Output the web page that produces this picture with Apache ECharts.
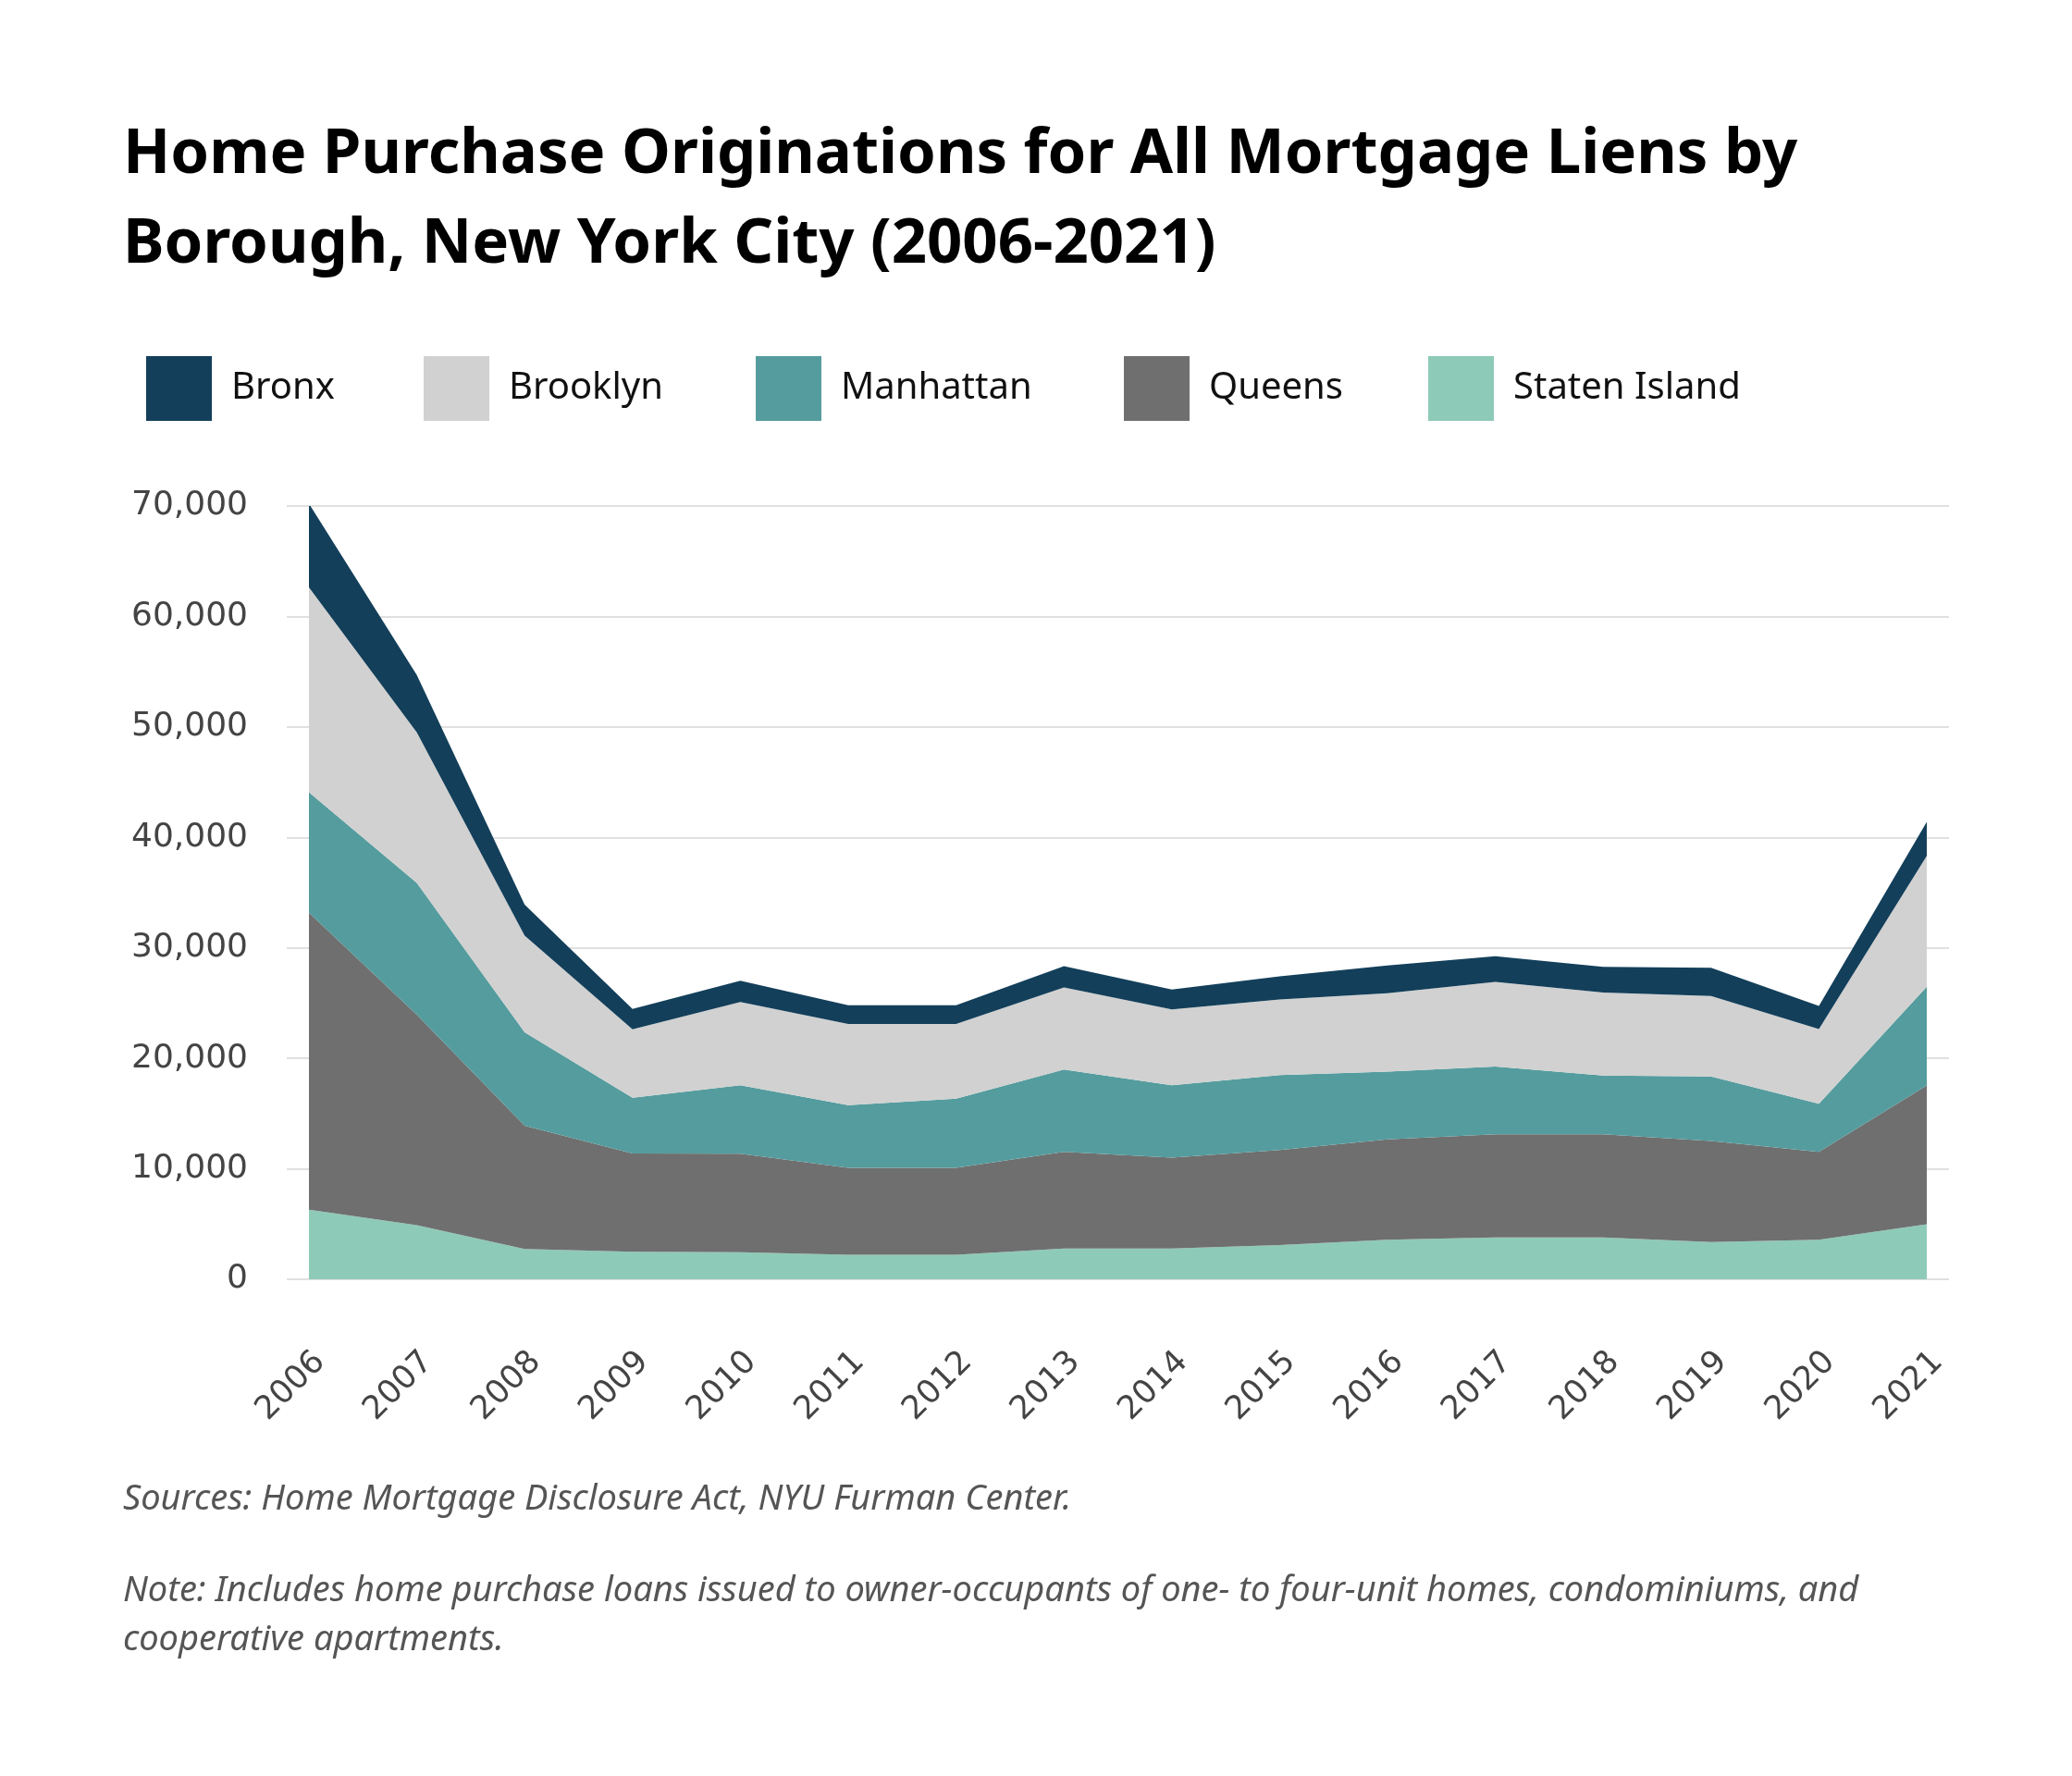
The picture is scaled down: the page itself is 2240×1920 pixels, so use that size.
<!DOCTYPE html>
<html>
<head>
<meta charset="utf-8">
<script src="https://cdn.jsdelivr.net/npm/echarts@6/dist/echarts.min.js"></script>
<style>
html,body{margin:0;padding:0;background:#fff;}
#chart{width:2240px;height:1920px;}
</style>
</head>
<body>
<div id="chart"></div>
<script>
const years = ['2006','2007','2008','2009','2010','2011','2012','2013','2014','2015','2016','2017','2018','2019','2020','2021'];
const statenIsland = [6300, 4900, 2750, 2490, 2440, 2220, 2220, 2780, 2780, 3100, 3570, 3780, 3780, 3360, 3570, 4990];
const queens = [26870, 19050, 11140, 8900, 8920, 7870, 7870, 8750, 8240, 8600, 9100, 9340, 9340, 9160, 7960, 12550];
const manhattan = [10920, 11930, 8470, 5040, 6200, 5680, 6250, 7450, 6540, 6780, 6130, 6130, 5320, 5830, 4360, 8950];
const brooklyn = [18550, 13620, 8750, 6200, 7530, 7330, 6760, 7440, 6870, 6850, 7090, 7660, 7510, 7300, 6750, 11830];
const bronx = [7570, 5190, 2810, 1850, 1930, 1700, 1700, 1930, 1790, 2100, 2520, 2340, 2340, 2550, 2110, 3090];
const yTicks = [0, 10000, 20000, 30000, 40000, 50000, 60000, 70000];

const legendNames = ['Bronx','Brooklyn','Manhattan','Queens','Staten Island'];
const legendLeft = [153, 453, 812, 1210, 1539];
const colors = {
  'Bronx': '#133f5a',
  'Brooklyn': '#d1d1d1',
  'Manhattan': '#559c9e',
  'Queens': '#6f6f6f',
  'Staten Island': '#8ecab8'
};

const chart = echarts.init(document.getElementById('chart'), null, {renderer:'canvas'});

const stackOrder = [
  ['Staten Island', statenIsland],
  ['Queens', queens],
  ['Manhattan', manhattan],
  ['Brooklyn', brooklyn],
  ['Bronx', bronx]
];

const option = {
  backgroundColor: '#ffffff',
  animation: false,
  color: stackOrder.map(s => colors[s[0]]),
  title: [
    {
      text: 'Home Purchase Originations for All Mortgage Liens by\nBorough, New York City (2006-2021)',
      left: 128, top: 114,
      textStyle: {fontFamily: 'Noto Sans', fontWeight: 700, fontSize: 67, lineHeight: 97, color: '#000'}
    },
    {
      text: 'Sources: Home Mortgage Disclosure Act, NYU Furman Center.',
      left: 128, top: 1597,
      textStyle: {fontFamily: 'Noto Sans', fontStyle: 'italic', fontWeight: 'normal', fontSize: 38, color: '#555'}
    },
    {
      text: 'Note: Includes home purchase loans issued to owner-occupants of one- to four-unit homes, condominiums, and\ncooperative apartments.',
      left: 128, top: 1689,
      textStyle: {fontFamily: 'Noto Sans', fontStyle: 'italic', fontWeight: 'normal', fontSize: 38, lineHeight: 53, color: '#555'}
    }
  ],
  legend: legendNames.map((n, i) => ({
    data: [n],
    left: legendLeft[i],
    top: 380,
    icon: 'rect',
    itemWidth: 71,
    itemHeight: 70,
    selectedMode: false,
    textStyle: {fontFamily: 'Noto Sans', fontSize: 40, color: '#111', padding: [0, 0, 0, 16]}
  })),
  grid: [
    {left: 310, right: 133, top: 547, bottom: 537},
    {left: 334, right: 157, top: 547, bottom: 537}
  ],
  xAxis: [
    {gridIndex: 0, type: 'category', data: years, boundaryGap: false, show: false},
    {
      gridIndex: 1, type: 'category', data: years, boundaryGap: false,
      axisLine: {show: false}, axisTick: {show: false},
      axisLabel: {rotate: 45, margin: 96, padding: [0, -17, 0, 0], fontFamily: 'DejaVu Sans', fontSize: 35, color: '#444', interval: 0}
    }
  ],
  yAxis: [
    {
      gridIndex: 0, type: 'value', min: yTicks[0], max: yTicks[yTicks.length - 1], interval: yTicks[1] - yTicks[0],
      axisLine: {show: false}, axisTick: {show: false},
      splitLine: {lineStyle: {color: '#d6d6d6', width: 1.5}},
      axisLabel: {
        margin: 42, fontFamily: 'DejaVu Sans', fontSize: 36, color: '#444',
        formatter: v => v.toLocaleString('en-US')
      }
    },
    {
      gridIndex: 1, type: 'value', min: yTicks[0], max: yTicks[yTicks.length - 1], interval: yTicks[1] - yTicks[0],
      show: false, splitLine: {show: false}
    }
  ],
  series: stackOrder.map(([name, vals]) => ({
    name: name,
    type: 'line',
    xAxisIndex: 1,
    yAxisIndex: 1,
    stack: 'total',
    data: vals,
    symbol: 'none',
    lineStyle: {width: 0},
    areaStyle: {opacity: 1, color: colors[name]},
    itemStyle: {color: colors[name]},
    emphasis: {disabled: true}
  }))
};

chart.setOption(option);
</script>
</body>
</html>
